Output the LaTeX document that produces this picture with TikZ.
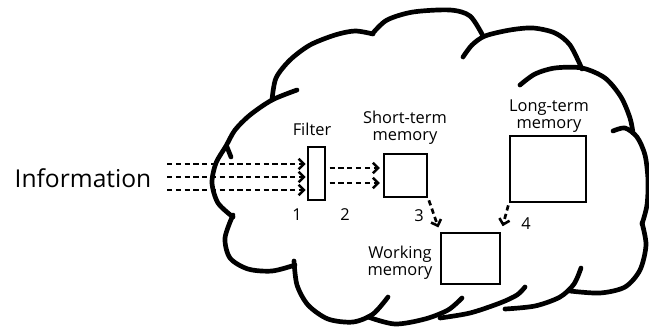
\documentclass[tikz,border=0pt]{standalone}
\usepackage{fontspec}
\setmainfont{Open Sans}
\usetikzlibrary{arrows.meta}

\begin{document}
\begin{tikzpicture}[x=0.03cm,y=-0.03cm,
    cloudline/.style={line width=4pt, line cap=round, line join=round},
    flow/.style={line width=2.3pt, dash pattern=on 4.5pt off 3pt,
      -{Straight Barb[length=4.5pt,width=9pt,line width=2.2pt]}}]

      \useasboundingbox (0,0) rectangle (649,326);

      \draw[cloudline] plot[smooth] coordinates {(297,90) (272,100) (250,115) (235,130) (226,146) (216,163) (212,183) (218,203) (233,217)};
      \draw[cloudline] (227,147) -- (231,157);
      \draw[cloudline] plot[smooth] coordinates {(233,215) (225,238) (230,258) (248,269) (272,271) (295,265)};
      \draw[cloudline] plot[smooth] coordinates {(294,261) (297,285) (308,305) (328,319) (353,322) (373,314) (388,297)};
      \draw[cloudline] plot[smooth] coordinates {(368,317) (395,324) (425,319) (448,310) (462,298)};
      \draw[cloudline] plot[smooth] coordinates {(440,318) (470,313) (500,303) (517,295) (525,287)};
      \draw[cloudline] plot[smooth] coordinates {(505,309) (535,306) (560,297) (574,284) (581,268)};
      \draw[cloudline] plot[smooth] coordinates {(570,291) (600,293) (625,287) (640,270) (646,245) (642,223)};
      \draw[cloudline] plot[smooth] coordinates {(642,224) (647,205) (648,180) (645,155) (637,137) (625,128) (613,131)};
      \draw[cloudline] plot[smooth] coordinates {(520,85) (535,74) (555,68) (582,68) (605,78) (621,97) (630,118) (633,133)};
      \draw[cloudline] plot[smooth] coordinates {(463,57) (472,45) (485,36) (510,30) (533,28) (555,33) (570,45) (582,69)};
      \draw[cloudline] plot[smooth] coordinates {(373,33) (387,20) (413,12) (450,10) (470,16) (483,36)};
      \draw[cloudline] plot[smooth] coordinates {(272,100) (276,78) (290,60) (310,45) (335,35) (355,31) (373,34)};

      \node[anchor=base, font=\fontsize{21}{25}\selectfont] (info) at (83,187) {Information};

      \begin{scope}[every node/.style={draw, line width=1.9pt, inner sep=0pt}]
        \node[minimum width=0.51cm, minimum height=1.59cm] (filter) at (316.5,173.5) {};
        \node[minimum width=1.29cm, minimum height=1.29cm] (stm) at (405.5,175.5) {};
        \node[minimum width=2.28cm, minimum height=1.98cm] (ltm) at (548,169) {};
        \node[minimum width=1.77cm, minimum height=1.53cm] (wm) at (470.5,258.5) {};
      \end{scope}

      \begin{scope}[every node/.style={font=\fontsize{14}{14.5}\selectfont, align=center}]
        \node[anchor=base] (filterlabel) at (312,135) {Filter};
        \node (stmlabel) at (405,128) {Short-term\\memory};
        \node (ltmlabel) at (549,116) {Long-term\\memory};
        \node (wmlabel) at (400,263) {Working\\memory};
        \node[anchor=base] (one) at (297,220) {1};
        \node[anchor=base] (two) at (345,220) {2};
        \node[anchor=base] (three) at (419,221) {3};
        \node[anchor=base] (four) at (526,229) {4};
      \end{scope}

      \coordinate (in1) at (167,164);
      \coordinate (in2) at (167,177);
      \coordinate (in3) at (167,190);

      \draw[flow, shorten >=1pt] (in1) -- (in1 -| filter.west);
      \draw[flow, shorten >=1pt] (in2) -- (in2 -| filter.west);
      \draw[flow, shorten >=1pt] (in3) -- (in3 -| filter.west);
      \draw[flow, shorten <=3pt, shorten >=2.5pt] (filter.east |- 0,168) -- (stm.west |- 0,168);
      \draw[flow, shorten <=3pt, shorten >=2.5pt] (filter.east |- 0,183) -- (stm.west |- 0,183);
      \draw[flow, shorten <=2pt, shorten >=4pt] (stm.south east) -- (wm.north west);
      \draw[flow, shorten <=2pt, shorten >=5pt] (ltm.south west) -- (wm.north east);

    \end{tikzpicture}
\end{document}
